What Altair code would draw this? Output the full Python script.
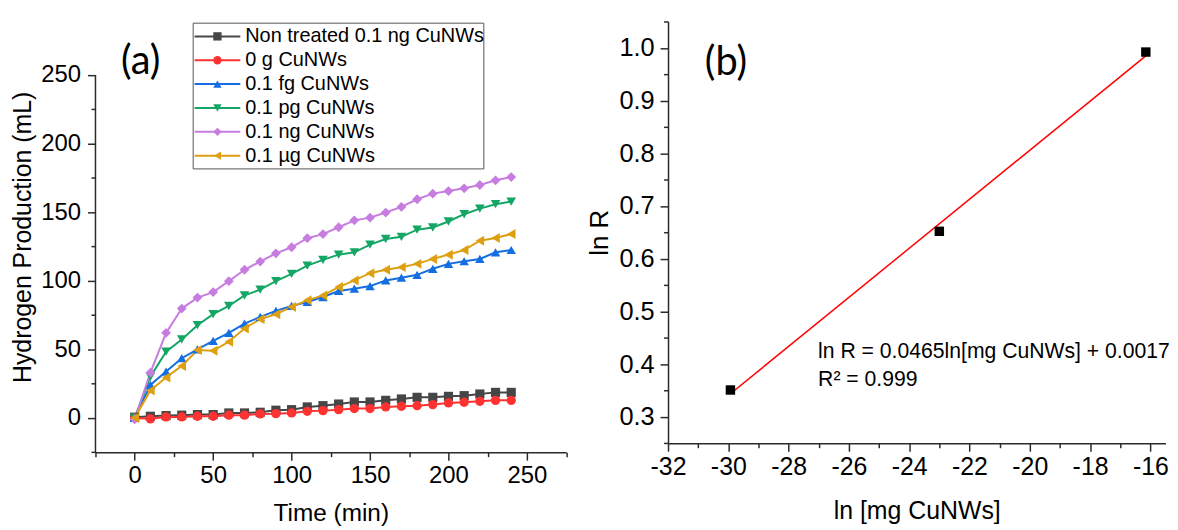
import altair as alt
import pandas as pd

FONT = "Liberation Sans"
AX = "#2b2b2b"

# ---------------- data: panel (a) ----------------
time_min = [0, 10, 20, 30, 40, 50, 60, 70, 80, 90, 100, 110, 120,
            130, 140, 150, 160, 170, 180, 190, 200, 210, 220, 230, 240]

series_names = ["Non treated 0.1 ng CuNWs", "0 g CuNWs", "0.1 fg CuNWs",
                "0.1 pg CuNWs", "0.1 ng CuNWs", "0.1 µg CuNWs"]

non_treated = [0.5, 1.2, 1.7, 2.0, 2.4, 2.4, 3.6, 3.6, 4.1, 5.6, 6.0, 8.0, 8.9,
               10.1, 11.6, 11.6, 12.8, 13.8, 15.0, 15.0, 15.7, 16.2, 17.4, 18.6, 18.6]
zero_g = [0.0, -0.7, 0.7, 0.7, 1.2, 1.2, 2.0, 2.0, 2.9, 3.1, 3.6, 4.8, 5.3,
          6.0, 6.8, 6.8, 8.0, 8.5, 8.9, 9.7, 10.9, 11.4, 12.1, 12.8, 12.8]
fg = [0.0, 24.0, 33.8, 43.5, 50.0, 56.2, 62.0, 68.8, 73.6, 78.0, 81.6, 84.5, 88.1,
      92.5, 94.2, 96.1, 100.2, 102.2, 104.3, 108.7, 112.3, 114.2, 115.9, 120.7, 122.4]
pg = [0.0, 30.0, 48.3, 57.2, 67.6, 75.6, 81.6, 89.3, 93.5, 99.7, 105.0, 111.0, 115.2,
      119.0, 120.7, 126.3, 130.4, 132.0, 137.2, 138.8, 143.2, 148.5, 152.6, 155.8, 157.7]
ng = [-1.0, 33.0, 62.0, 79.7, 87.7, 91.7, 99.7, 108.0, 114.0, 120.0, 124.4, 131.0, 134.0,
      139.0, 144.0, 146.0, 149.7, 153.8, 159.4, 163.5, 165.4, 167.4, 169.8, 173.2, 175.6]
ug = [0.0, 20.0, 29.4, 37.9, 49.5, 49.0, 55.5, 65.2, 72.0, 75.6, 80.9, 85.7, 89.3,
      95.4, 100.2, 105.5, 108.0, 109.9, 112.3, 115.9, 119.0, 122.4, 129.2, 131.2, 134.0]

series_values = [non_treated, zero_g, fg, pg, ng, ug]
colors = ["#464646", "#FF3232", "#146EE1", "#14A664", "#C77CE0", "#DEA010"]
shapes = ["square", "circle", "triangle-up", "triangle-down", "diamond", "triangle-left"]
sizes = [85, 100, 130, 130, 145, 130]

x_ticks_a = list(range(-25, 276, 25))
y_ticks_a = list(range(-25, 251, 25))
y_axis_span_a = [-25, 250]

# ---------------- data: panel (b) ----------------
ln_mg = [-29.93, -23.0, -16.15]
ln_R = [0.351, 0.652, 0.992]
x_ticks_b = list(range(-32, -15, 1))
y_ticks_b = [0.25, 0.3, 0.35, 0.4, 0.45, 0.5, 0.55, 0.6, 0.65, 0.7, 0.75, 0.8,
             0.85, 0.9, 0.95, 1.0, 1.05]
equation = "ln R = 0.0465ln[mg CuNWs] + 0.0017"
r_squared = "R² = 0.999"

# ---------------- panel (a) ----------------
rows = []
for name, vals in zip(series_names, series_values):
    for t, v in zip(time_min, vals):
        rows.append({"series": name, "time": t, "value": v})
df_a = pd.DataFrame(rows)

W_A, H_A = 473.5, 433.3
W_B, H_B = 500.4, 424.3

xs_a = alt.Scale(domain=[-25, 275], nice=False, zero=False)
ys_a = alt.Scale(domain=[-25, 289], nice=False, zero=False)

x_axis_a = alt.Axis(
    values=x_ticks_a,
    labelExpr="(datum.value % 50 === 0 && datum.value >= 0 && datum.value <= 250) ? ('' + datum.value) : ''",
    tickSize={"condition": {"test": "datum.value % 50 === 0", "value": 8}, "value": 4.5},
    title="Time (min)", labelFontSize=24, titleFontSize=24.5,
    labelPadding=3, titlePadding=15, labelOverlap=False, labelFlush=False,
)
y_axis_a = alt.Axis(
    values=y_ticks_a, domain=False,
    labelExpr="(datum.value % 50 === 0) ? ('' + datum.value) : ''",
    tickSize={"condition": {"test": "datum.value % 50 === 0", "value": 8}, "value": 4.5},
    title="Hydrogen Production (mL)", labelFontSize=24, titleFontSize=25,
    labelPadding=7, titlePadding=5, labelOverlap=False, labelFlush=False,
)

color_a = alt.Color("series:N", scale=alt.Scale(domain=series_names, range=colors), legend=None)
shape_a = alt.Shape("series:N", scale=alt.Scale(domain=series_names, range=shapes), legend=None)
size_a = alt.Size("series:N", scale=alt.Scale(domain=series_names, range=sizes), legend=None)

base_a = alt.Chart(df_a)
lines_a = base_a.mark_line(strokeWidth=2).encode(
    x=alt.X("time:Q", scale=xs_a, axis=x_axis_a),
    y=alt.Y("value:Q", scale=ys_a, axis=y_axis_a),
    color=color_a,
)
points_a = base_a.mark_point(filled=True, opacity=1).encode(
    x=alt.X("time:Q", scale=xs_a, axis=x_axis_a),
    y=alt.Y("value:Q", scale=ys_a, axis=y_axis_a),
    color=color_a, shape=shape_a, size=size_a,
)
one = pd.DataFrame({"k": [0]})
span_df = pd.DataFrame({"value": [y_axis_span_a[0]], "value_hi": [y_axis_span_a[1]]})
yaxis_line_a = alt.Chart(span_df).mark_rule(color=AX, strokeWidth=1.5).encode(
    x=alt.value(0),
    y=alt.Y("value:Q", scale=ys_a, axis=y_axis_a),
    y2="value_hi:Q",
)

legend_layers = [
    alt.Chart(one).mark_rect(fill="white", stroke="#555555", strokeWidth=1).encode(
        x=alt.value(98.3), x2=alt.value(390.7), y=alt.value(1.7), y2=alt.value(148.3)
    )
]
for i, (name, c, s) in enumerate(zip(series_names, colors, shapes)):
    yy = 15 + 24 * i
    legend_layers.append(alt.Chart(one).mark_rule(color=c, strokeWidth=2).encode(
        x=alt.value(99.7), x2=alt.value(145.7), y=alt.value(yy)))
    legend_layers.append(alt.Chart(one).mark_point(
        shape=s, filled=True, opacity=1, color=c, size=70).encode(
        x=alt.value(122.7), y=alt.value(yy)))
    legend_layers.append(alt.Chart(one).mark_text(
        align="left", baseline="middle", font=FONT, fontSize=20, color="black").encode(
        x=alt.value(150.7), y=alt.value(yy), text=alt.value(name)))

label_a = alt.Chart(one).mark_text(font="Lato", fontSize=40, align="center",
                                   baseline="middle", color="black").encode(
    x=alt.value(45.5), y=alt.value(41), text=alt.value("(a)"))

panel_a = alt.layer(lines_a, points_a, yaxis_line_a, *legend_layers, label_a).properties(
    width=W_A, height=H_A)

# ---------------- panel (b) ----------------
df_b = pd.DataFrame({"lnmg": ln_mg, "lnR": ln_R})
xs_b = alt.Scale(domain=[-32, -15.5], nice=False, zero=False)
ys_b = alt.Scale(domain=[0.25, 1.05], nice=False, zero=False)

x_axis_b = alt.Axis(
    values=x_ticks_b,
    labelExpr="(datum.value % 2 === 0) ? ('' + datum.value) : ''",
    tickSize={"condition": {"test": "datum.value % 2 === 0", "value": 8}, "value": 4.5},
    title="ln [mg CuNWs]", labelFontSize=25, titleFontSize=25,
    labelPadding=3, titlePadding=20, labelOverlap=False, labelFlush=False,
)
y_axis_b = alt.Axis(
    values=y_ticks_b,
    labelExpr="(abs(round(datum.value * 100)) % 10 === 0) ? format(datum.value, '.1f') : ''",
    tickSize={"condition": {"test": "abs(round(datum.value * 100)) % 10 === 0", "value": 8}, "value": 4.5},
    title="ln R", labelFontSize=25.5, titleFontSize=26,
    labelPadding=6, titlePadding=6, labelOverlap=False, labelFlush=False,
)

fit_b = alt.Chart(df_b).transform_regression("lnmg", "lnR").mark_line(
    color="#FF0000", strokeWidth=1.5).encode(
    x=alt.X("lnmg:Q", scale=xs_b, axis=x_axis_b),
    y=alt.Y("lnR:Q", scale=ys_b, axis=y_axis_b),
)
pts_b = alt.Chart(df_b).mark_point(shape="square", filled=True, opacity=1,
                                   color="black", size=90).encode(
    x=alt.X("lnmg:Q", scale=xs_b, axis=x_axis_b),
    y=alt.Y("lnR:Q", scale=ys_b, axis=y_axis_b))

eq_b = alt.Chart(one).mark_text(font=FONT, fontSize=21.3, align="left",
                                baseline="alphabetic", color="black").encode(
    x=alt.value(151), y=alt.value(338.3), text=alt.value(equation))
r2_b = alt.Chart(one).mark_text(font=FONT, fontSize=21.3, align="left",
                                baseline="alphabetic", color="black").encode(
    x=alt.value(151), y=alt.value(366.7), text=alt.value(r_squared))
label_b = alt.Chart(one).mark_text(font="Lato", fontSize=40, align="center",
                                   baseline="middle", color="black").encode(
    x=alt.value(58.3), y=alt.value(42), text=alt.value("(b)"))

panel_b = alt.layer(fit_b, pts_b, eq_b, r2_b, label_b).properties(width=W_B, height=H_B)

chart = alt.hconcat(panel_a, panel_b, spacing=19).properties(
    padding={"left": 2, "top": 0, "right": 0, "bottom": 0}
).configure_view(stroke=None).configure_axis(
    grid=False, domainColor=AX, tickColor=AX, domainWidth=1.5, tickWidth=1.5,
    labelFont=FONT, titleFont=FONT, labelColor="black", titleColor="black",
    titleFontWeight="normal", labelOverlap=False, labelFlush=False,
)

chart.save("out.html", embed_options={"renderer": "svg", "actions": False})
